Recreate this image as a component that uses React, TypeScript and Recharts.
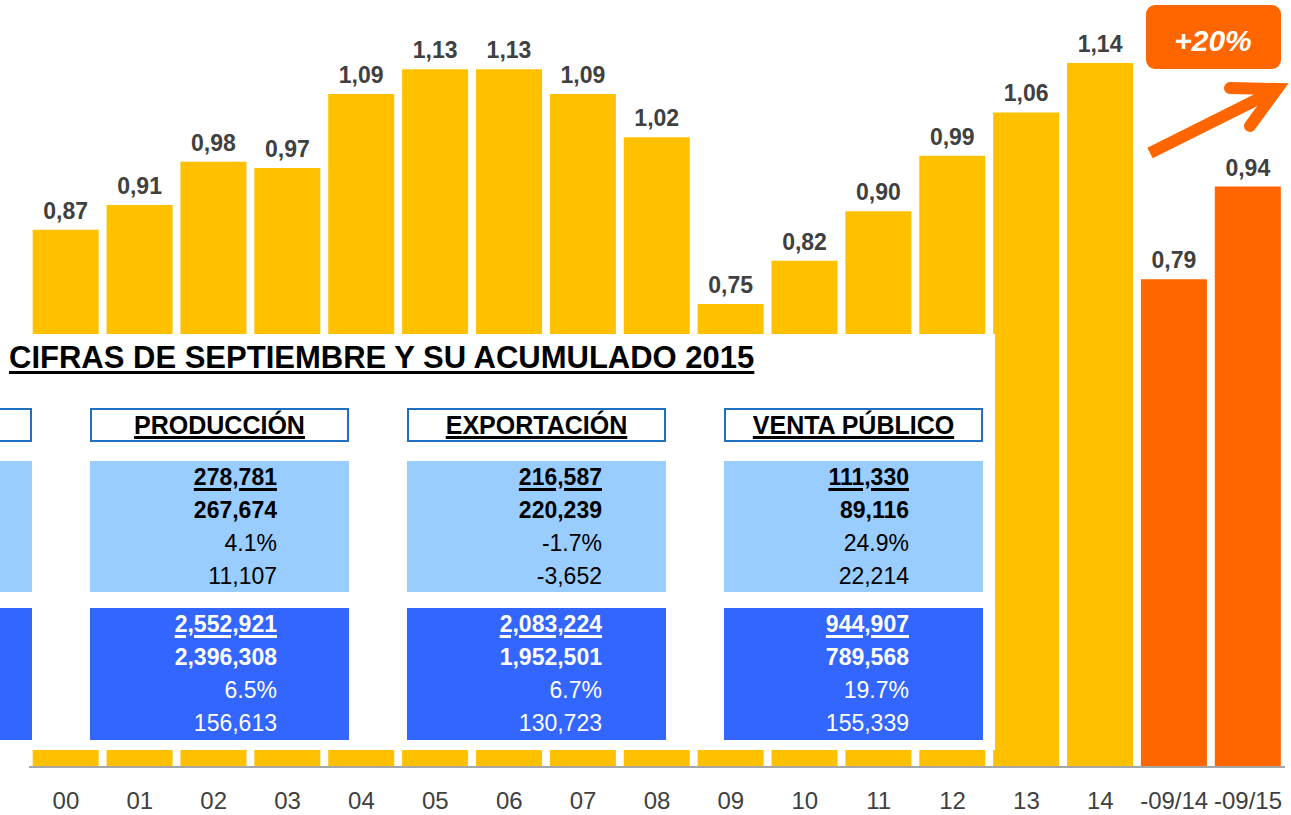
import React from 'react';
import { BarChart, Bar, XAxis, YAxis, Cell, LabelList } from 'recharts';

const categories = ['00', '01', '02', '03', '04', '05', '06', '07', '08', '09', '10', '11', '12', '13', '14', '-09/14', '-09/15'];
const ratios = [0.87, 0.91, 0.98, 0.97, 1.09, 1.13, 1.13, 1.09, 1.02, 0.75, 0.82, 0.9, 0.99, 1.06, 1.14, 0.79, 0.94];
const accumulated = [false, false, false, false, false, false, false, false, false, false, false, false, false, false, false, true, true];

const tableTitle = 'CIFRAS DE SEPTIEMBRE Y SU ACUMULADO 2015';
const tableHeaders = ['PRODUCCIÓN', 'EXPORTACIÓN', 'VENTA PÚBLICO'];
const monthRows = [
  ['278,781', '267,674', '4.1%', '11,107'],
  ['216,587', '220,239', '-1.7%', '-3,652'],
  ['111,330', '89,116', '24.9%', '22,214'],
];
const yearRows = [
  ['2,552,921', '2,396,308', '6.5%', '156,613'],
  ['2,083,224', '1,952,501', '6.7%', '130,723'],
  ['944,907', '789,568', '19.7%', '155,339'],
];
const growthLabel = '+20%';

const data = categories.map((c, i) => ({ name: c, value: ratios[i] }));

const FONT = '"Liberation Sans", Arial, Helvetica, sans-serif';
const YELLOW = '#FFC000';
const ORANGE = '#FF6600';
const LIGHT = '#99CCFF';
const DARK = '#3366FF';
const BORDER = '#1F70C1';

const colLeft = [90, 407, 724];
const colWidth = 259;
const textPadRight = [72, 64, 74];

function Rows({ rows, color, padRight }: { rows: string[]; color: string; padRight: number }) {
  return (
    <>
      {rows.map((r, i) => (
        <div
          key={i}
          style={{
            position: 'absolute',
            right: padRight,
            top: i * 33,
            height: 33,
            lineHeight: '33px',
            fontSize: 23,
            fontWeight: i < 2 ? 'bold' : 'normal',
            textDecoration: i === 0 ? 'underline' : 'none',
            textDecorationThickness: '3px',
            textUnderlineOffset: '3px',
            color,
            whiteSpace: 'nowrap',
          }}
        >
          {r}
        </div>
      ))}
    </>
  );
}

export default function App() {
  return (
    <div style={{ position: 'absolute', left: 0, top: 0, width: 1291, height: 815, background: '#fff', fontFamily: FONT, overflow: 'hidden' }}>
      <BarChart width={1291} height={815} data={data} margin={{ top: 26, right: 6, left: 29, bottom: 0 }} barCategoryGap="5%">
        <YAxis hide domain={[0, 1.2]} />
        <XAxis
          dataKey="name"
          height={48}
          interval={0}
          tickLine={false}
          tickSize={0}
          tickMargin={25}
          axisLine={{ stroke: '#A6A6A6', strokeWidth: 2 }}
          tick={{ fill: '#404040', fontSize: 24, fontFamily: FONT }}
        />
        <Bar dataKey="value" isAnimationActive={false}>
          {data.map((d, i) => (
            <Cell key={i} fill={accumulated[i] ? ORANGE : YELLOW} />
          ))}
          <LabelList
            dataKey="value"
            position="top"
            offset={11}
            formatter={(v: number) => v.toFixed(2).replace('.', ',')}
            style={{ fill: '#404040', fontSize: 23, fontWeight: 'bold', fontFamily: FONT }}
          />
        </Bar>
      </BarChart>

      <svg width={1291} height={815} style={{ position: 'absolute', left: 0, top: 0, pointerEvents: 'none' }}>
        <rect x={1146} y={5} width={135} height={64} rx={9} fill={ORANGE} />
        <text x={1213} y={51} textAnchor="middle" fill="#fff" fontSize={30} fontWeight="bold" fontStyle="italic" fontFamily={FONT}>
          {growthLabel}
        </text>
        <line x1={1150} y1={153} x2={1272} y2={92} stroke={ORANGE} strokeWidth={12} />
        <polyline points="1230,88 1277,89 1250,126" fill="none" stroke={ORANGE} strokeWidth={12} strokeLinecap="round" strokeLinejoin="miter" />
      </svg>

      <div style={{ position: 'absolute', left: 0, top: 334, width: 995, height: 416, background: '#fff' }} />

      <div
        style={{
          position: 'absolute',
          left: 9,
          top: 340,
          fontSize: 31,
          lineHeight: '36px',
          fontWeight: 'bold',
          textDecoration: 'underline',
          textDecorationThickness: '3px',
          textUnderlineOffset: '3px',
          color: '#000',
          whiteSpace: 'nowrap',
        }}
      >
        {tableTitle}
      </div>

      {/* cut-off left column */}
      <div style={{ position: 'absolute', left: -4, top: 408, width: 36, height: 34, border: `2px solid ${BORDER}`, boxSizing: 'border-box', background: '#fff' }} />
      <div style={{ position: 'absolute', left: 0, top: 461, width: 32, height: 131, background: LIGHT }} />
      <div style={{ position: 'absolute', left: 0, top: 608, width: 32, height: 132, background: DARK }} />

      {tableHeaders.map((h, c) => (
        <React.Fragment key={h}>
          <div
            style={{
              position: 'absolute',
              left: colLeft[c],
              top: 408,
              width: colWidth,
              height: 34,
              border: `2px solid ${BORDER}`,
              boxSizing: 'border-box',
              display: 'flex',
              alignItems: 'center',
              justifyContent: 'center',
              fontSize: 25,
              fontWeight: 'bold',
              textDecoration: 'underline',
              textDecorationThickness: '3px',
              textUnderlineOffset: '2px',
              color: '#000',
              whiteSpace: 'nowrap',
            }}
          >
            {h}
          </div>
          <div style={{ position: 'absolute', left: colLeft[c], top: 461, width: colWidth, height: 131, background: LIGHT }}>
            <Rows rows={monthRows[c]} color="#000" padRight={textPadRight[c]} />
          </div>
          <div style={{ position: 'absolute', left: colLeft[c], top: 608, width: colWidth, height: 132, background: DARK }}>
            <Rows rows={yearRows[c]} color="#fff" padRight={textPadRight[c]} />
          </div>
        </React.Fragment>
      ))}
    </div>
  );
}
